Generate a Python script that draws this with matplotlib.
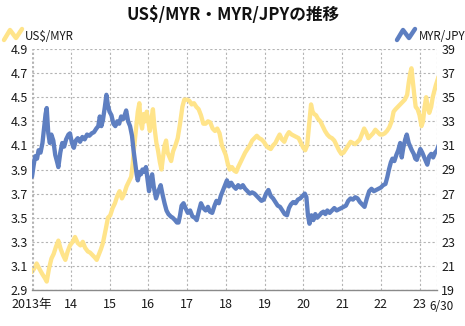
import matplotlib
matplotlib.use("Agg")
import matplotlib.pyplot as plt
from matplotlib.lines import Line2D

plt.rcParams["font.family"] = ["Noto Sans CJK JP", "DejaVu Sans"]

# US$/MYR (left axis)
usd_myr_t = [
    2013.00, 2013.06, 2013.12, 2013.20, 2013.27, 2013.33, 2013.38, 2013.44, 2013.50, 2013.56,
    2013.62, 2013.68, 2013.74, 2013.80, 2013.86, 2013.92, 2013.98, 2014.05, 2014.11, 2014.18,
    2014.25, 2014.31, 2014.37, 2014.44, 2014.50, 2014.56, 2014.62, 2014.67, 2014.73, 2014.78,
    2014.83, 2014.90, 2014.96, 2015.02, 2015.08, 2015.14, 2015.20, 2015.26, 2015.32, 2015.38,
    2015.44, 2015.50, 2015.56, 2015.60, 2015.64, 2015.69, 2015.73, 2015.77, 2015.80, 2015.84,
    2015.88, 2015.92, 2015.96, 2016.00, 2016.04, 2016.08, 2016.12, 2016.16, 2016.21, 2016.25,
    2016.30, 2016.34, 2016.38, 2016.42, 2016.46, 2016.50, 2016.55, 2016.59, 2016.64, 2016.70,
    2016.76, 2016.82, 2016.88, 2016.93, 2017.00, 2017.06, 2017.12, 2017.18, 2017.24, 2017.30,
    2017.36, 2017.42, 2017.48, 2017.54, 2017.60, 2017.66, 2017.72, 2017.78, 2017.84, 2017.90,
    2017.95, 2018.00, 2018.05, 2018.10, 2018.16, 2018.22, 2018.27, 2018.32, 2018.38, 2018.44,
    2018.50, 2018.56, 2018.62, 2018.68, 2018.74, 2018.80, 2018.86, 2018.92, 2018.98, 2019.04,
    2019.10, 2019.16, 2019.22, 2019.28, 2019.34, 2019.39, 2019.45, 2019.51, 2019.57, 2019.63,
    2019.70, 2019.76, 2019.82, 2019.88, 2019.94, 2020.00, 2020.05, 2020.10, 2020.16, 2020.20,
    2020.24, 2020.28, 2020.33, 2020.38, 2020.44, 2020.50, 2020.56, 2020.62, 2020.68, 2020.74,
    2020.80, 2020.86, 2020.92, 2020.98, 2021.04, 2021.10, 2021.16, 2021.22, 2021.28, 2021.34,
    2021.40, 2021.46, 2021.52, 2021.57, 2021.62, 2021.68, 2021.74, 2021.80, 2021.86, 2021.92,
    2021.98, 2022.04, 2022.10, 2022.16, 2022.22, 2022.28, 2022.33, 2022.38, 2022.44, 2022.50,
    2022.56, 2022.62, 2022.68, 2022.72, 2022.76, 2022.79, 2022.83, 2022.87, 2022.90, 2022.95,
    2023.00, 2023.05, 2023.09, 2023.13, 2023.17, 2023.21, 2023.25, 2023.30, 2023.34, 2023.38,
    2023.42, 2023.46, 2023.49,
]
usd_myr = [
    3.05, 3.08, 3.12, 3.07, 3.03, 3.00, 2.97, 3.08, 3.16, 3.20,
    3.26, 3.31, 3.24, 3.19, 3.15, 3.22, 3.27, 3.30, 3.34, 3.29,
    3.27, 3.30, 3.25, 3.22, 3.21, 3.19, 3.17, 3.15, 3.20, 3.24,
    3.29, 3.40, 3.50, 3.52, 3.58, 3.62, 3.68, 3.72, 3.66, 3.70,
    3.76, 3.80, 3.84, 3.95, 4.10, 4.26, 4.38, 4.45, 4.30, 4.24,
    4.36, 4.30, 4.38, 4.30, 4.22, 4.32, 4.40, 4.25, 4.12, 4.06,
    3.96, 3.90, 4.00, 4.10, 4.14, 4.04, 4.00, 3.97, 4.05, 4.10,
    4.16, 4.28, 4.42, 4.48, 4.48, 4.47, 4.44, 4.45, 4.42, 4.40,
    4.35, 4.28, 4.28, 4.30, 4.29, 4.24, 4.22, 4.24, 4.20, 4.10,
    4.06, 4.02, 3.95, 3.90, 3.92, 3.89, 3.88, 3.92, 3.96, 4.00,
    4.04, 4.07, 4.10, 4.14, 4.16, 4.18, 4.16, 4.15, 4.13, 4.10,
    4.08, 4.07, 4.10, 4.12, 4.16, 4.19, 4.15, 4.13, 4.18, 4.21,
    4.19, 4.18, 4.17, 4.16, 4.12, 4.08, 4.06, 4.10, 4.30, 4.44,
    4.38, 4.36, 4.35, 4.32, 4.30, 4.26, 4.22, 4.19, 4.17, 4.16,
    4.14, 4.10, 4.06, 4.03, 4.04, 4.07, 4.10, 4.13, 4.12, 4.11,
    4.13, 4.15, 4.20, 4.24, 4.21, 4.16, 4.18, 4.20, 4.23, 4.21,
    4.19, 4.19, 4.20, 4.22, 4.25, 4.30, 4.38, 4.40, 4.42, 4.44,
    4.46, 4.48, 4.52, 4.62, 4.70, 4.74, 4.62, 4.50, 4.42, 4.40,
    4.35, 4.26, 4.30, 4.42, 4.50, 4.42, 4.37, 4.42, 4.50, 4.55,
    4.60, 4.64, 4.67,
]

# MYR/JPY (right axis)
myr_jpy_t = [
    2013.00, 2013.04, 2013.08, 2013.13, 2013.17, 2013.22, 2013.27, 2013.31, 2013.35, 2013.38,
    2013.42, 2013.46, 2013.50, 2013.55, 2013.60, 2013.65, 2013.68, 2013.73, 2013.78, 2013.83,
    2013.88, 2013.94, 2013.98, 2014.03, 2014.08, 2014.13, 2014.18, 2014.24, 2014.30, 2014.36,
    2014.42, 2014.48, 2014.54, 2014.60, 2014.66, 2014.71, 2014.75, 2014.79, 2014.83, 2014.88,
    2014.92, 2014.96, 2015.00, 2015.05, 2015.10, 2015.15, 2015.20, 2015.25, 2015.30, 2015.36,
    2015.43, 2015.48, 2015.53, 2015.58, 2015.62, 2015.66, 2015.70, 2015.73, 2015.77, 2015.81,
    2015.85, 2015.90, 2015.94, 2015.98, 2016.02, 2016.06, 2016.10, 2016.14, 2016.20, 2016.26,
    2016.32, 2016.37, 2016.42, 2016.47, 2016.52, 2016.58, 2016.63, 2016.69, 2016.74, 2016.78,
    2016.82, 2016.86, 2016.91, 2016.96, 2017.02, 2017.08, 2017.14, 2017.20, 2017.25, 2017.31,
    2017.36, 2017.42, 2017.48, 2017.54, 2017.59, 2017.65, 2017.71, 2017.76, 2017.82, 2017.87,
    2017.92, 2017.97, 2018.03, 2018.08, 2018.14, 2018.20, 2018.26, 2018.32, 2018.38, 2018.44,
    2018.50, 2018.56, 2018.62, 2018.68, 2018.74, 2018.80, 2018.86, 2018.92, 2018.98, 2019.04,
    2019.10, 2019.16, 2019.22, 2019.28, 2019.34, 2019.40, 2019.46, 2019.52, 2019.58, 2019.63,
    2019.68, 2019.74, 2019.80, 2019.86, 2019.92, 2019.98, 2020.04, 2020.08, 2020.12, 2020.16,
    2020.21, 2020.26, 2020.31, 2020.36, 2020.42, 2020.47, 2020.52, 2020.57, 2020.62, 2020.68,
    2020.74, 2020.80, 2020.86, 2020.92, 2020.98, 2021.04, 2021.10, 2021.16, 2021.22, 2021.28,
    2021.34, 2021.40, 2021.46, 2021.52, 2021.58, 2021.64, 2021.70, 2021.76, 2021.82, 2021.88,
    2021.94, 2022.00, 2022.06, 2022.12, 2022.17, 2022.21, 2022.26, 2022.30, 2022.35, 2022.40,
    2022.45, 2022.50, 2022.54, 2022.58, 2022.63, 2022.67, 2022.72, 2022.76, 2022.80, 2022.85,
    2022.89, 2022.93, 2022.98, 2023.02, 2023.07, 2023.12, 2023.16, 2023.20, 2023.25, 2023.30,
    2023.35, 2023.40, 2023.45, 2023.49,
]
myr_jpy = [
    28.4, 29.3, 30.1, 29.9, 30.6, 30.4, 31.2, 32.4, 33.6, 34.1,
    32.0, 31.2, 31.9, 31.4, 30.2, 29.6, 29.2, 30.4, 31.2, 30.9,
    31.5, 31.9, 32.0, 31.2, 30.8, 31.4, 31.6, 31.3, 31.7, 31.5,
    31.9, 31.8, 32.0, 32.1, 32.4, 32.6, 33.4, 32.6, 33.1, 34.2,
    35.2, 34.3, 33.8, 33.5, 32.8, 32.6, 33.0, 32.8, 33.4, 33.2,
    33.9, 33.0, 32.6, 31.8, 30.6, 29.6, 28.6, 28.1, 28.8, 28.6,
    29.0, 28.8, 29.2, 28.2, 27.2, 28.2, 28.6, 27.6, 26.6, 27.2,
    27.7, 26.9, 26.2, 25.6, 25.3, 25.1, 25.0, 24.8, 24.6, 24.6,
    25.2, 26.0, 26.2, 25.8, 25.4, 25.6, 25.1, 25.0, 24.8, 25.6,
    26.2, 25.8, 25.6, 25.9, 25.5, 25.4, 26.0, 26.4, 26.2, 26.8,
    27.2, 27.6, 28.1, 27.6, 27.9, 27.6, 27.4, 27.7, 27.5, 27.7,
    27.4, 27.2, 27.0, 27.1, 27.0, 26.8, 26.6, 26.4, 26.5, 27.0,
    27.3, 26.8, 26.6, 26.3, 26.0, 25.9, 25.6, 25.3, 25.2, 25.8,
    26.1, 26.3, 26.2, 26.5, 26.6, 26.8, 27.0, 26.7, 25.2, 24.5,
    25.2, 24.8, 25.3, 25.0, 25.2, 25.4, 25.5, 25.3, 25.6, 25.4,
    25.6, 25.8, 25.6, 25.7, 25.8, 25.9, 26.0, 26.4, 26.6, 26.5,
    26.7, 26.6, 26.3, 26.1, 25.9, 26.6, 27.2, 27.4, 27.2, 27.3,
    27.4, 27.5, 27.7, 27.8, 28.4, 29.0, 29.6, 29.9, 29.7, 30.2,
    30.6, 31.2, 30.0, 30.8, 31.5, 31.9, 31.2, 30.9, 30.6, 30.3,
    29.9, 29.8, 30.3, 30.7, 30.4, 30.0, 29.7, 29.4, 30.1, 30.3,
    30.0, 30.4, 30.6, 31.0,
]

years = list(range(2013, 2024))
year_labels = ["2013年"] + [str(y)[2:] for y in years[1:]]
left_ticks = [2.9, 3.1, 3.3, 3.5, 3.7, 3.9, 4.1, 4.3, 4.5, 4.7, 4.9]
right_ticks = [19, 21, 23, 25, 27, 29, 31, 33, 35, 37, 39]

YELLOW = "#FFE48A"
BLUE = "#5E7FC1"
GRID = "#b4b4b4"
TEXT = "#1a1a1a"
W, H = 465, 326


def fx(px):
    return px / W


def fy(py):
    return 1 - py / H


fig = plt.figure(figsize=(W / 100, H / 100), dpi=100)
ax = fig.add_axes([fx(32), fy(290), fx(437) - fx(32), fy(49) - fy(290)])
ax2 = ax.twinx()

ax.plot(usd_myr_t, usd_myr, color=YELLOW, lw=3.1,
        solid_joinstyle="round", solid_capstyle="round")
ax2.plot(myr_jpy_t, myr_jpy, color=BLUE, lw=3.1,
         solid_joinstyle="round", solid_capstyle="round")

ax.set_xlim(2013.03, 2023.45)
ax.set_ylim(2.9, 4.9)
ax2.set_ylim(19, 39)

ax.set_xticks(years)
ax.set_xticklabels(year_labels)
ax.set_yticks(left_ticks)
ax.set_yticklabels([f"{v:.1f}" for v in left_ticks])
ax2.set_yticks(right_ticks)
ax2.set_yticklabels([str(v) for v in right_ticks])

ax.tick_params(axis="both", length=0, labelsize=9, colors=TEXT)
ax.tick_params(axis="y", pad=3)
ax.tick_params(axis="x", pad=5.5)
ax2.tick_params(axis="y", length=0, labelsize=9, colors=TEXT, pad=3)

ax.grid(True, color=GRID, linestyle=(0, (2, 2)), linewidth=0.8)
ax.axvline(2023.45, color=GRID, linestyle=(0, (2, 2)), linewidth=0.8)
ax.axvline(2013.03, color=GRID, linestyle=(0, (2, 2)), linewidth=0.8)
for a in (ax, ax2):
    for side in ("left", "right", "top"):
        a.spines[side].set_visible(False)
ax.spines["bottom"].set_color("#8a8a8a")
ax.spines["bottom"].set_linewidth(1.0)
ax2.spines["bottom"].set_visible(False)

fig.text(fx(441), fy(306), "6/30", ha="center", va="center",
         fontsize=8.5, color=TEXT)

fig.text(fx(233), fy(15), "US$/MYR・MYR/JPYの推移", ha="center", va="center",
         fontsize=12, fontweight="bold", color="#111111")


# legend markers: small zigzag strokes
def zigzag(x0, color):
    xs = [x0, x0 + 6, x0 + 12, x0 + 18]
    ys = [40, 30, 38, 29]
    fig.add_artist(Line2D([fx(x) for x in xs], [fy(y) for y in ys],
                          color=color, lw=3.2, solid_joinstyle="round",
                          solid_capstyle="round", transform=fig.transFigure))


zigzag(4, YELLOW)
fig.text(fx(25), fy(36), "US$/MYR", ha="left", va="center",
         fontsize=8.3, color=TEXT)
zigzag(397, BLUE)
fig.text(fx(419), fy(36), "MYR/JPY", ha="left", va="center",
         fontsize=8.3, color=TEXT)

fig.savefig("out.png", dpi=100)
